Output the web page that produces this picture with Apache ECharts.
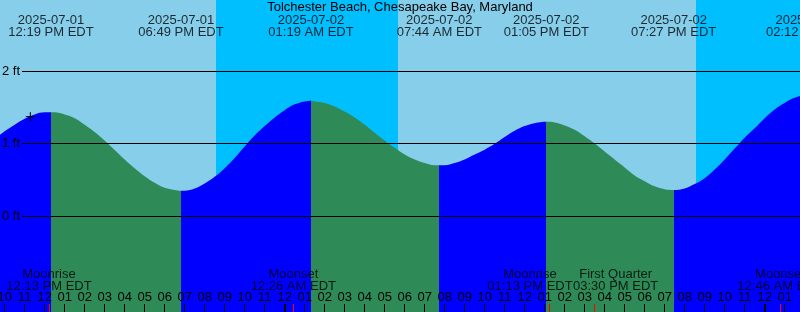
<!DOCTYPE html>
<html><head><meta charset="utf-8">
<script src="https://cdn.jsdelivr.net/npm/echarts@6/dist/echarts.min.js"></script>
<style>html,body{margin:0;padding:0;background:#87CEEB;overflow:hidden}#c{width:800px;height:312px}</style>
</head><body><div id="c"></div>
<script>
// ---------- data ----------
const titleText = 'Tolchester Beach, Chesapeake Bay, Maryland';
const windowStart = '2025-07-01 09:46';
const windowEnd = '2025-07-03 01:46';

const tideEventTimes = ['2025-07-01 12:19','2025-07-01 18:49','2025-07-02 01:19','2025-07-02 07:44','2025-07-02 13:05','2025-07-02 19:27','2025-07-03 02:12'];
const tideEventTypes = ['High','Low','High','Low','High','Low','High'];
const tideEventLevels = [1.43, 0.35, 1.59, 0.70, 1.30, 0.36, 1.66];

// hours since 2025-07-01 00:00 EDT, and tide height (ft)
const curveHours = [9.5, 10, 10.5, 11, 11.5, 12, 12.5, 13, 13.5, 14, 14.5, 15, 15.5, 16, 16.5, 17, 17.5, 18, 18.5, 19, 19.5, 20, 20.5, 21, 21.5, 22, 22.5, 23, 23.5, 24, 24.5, 25, 25.5, 26, 26.5, 27, 27.5, 28, 28.5, 29, 29.5, 30, 30.5, 31, 31.5, 32, 32.5, 33, 33.5, 34, 34.5, 35, 35.5, 36, 36.5, 37.5, 38, 38.5, 39, 39.5, 40, 40.5, 41, 41.5, 42, 42.5, 43, 44, 44.5, 45, 45.5, 46, 46.5, 47, 47.5, 48, 48.5, 49, 49.5, 50];
const curveLevels = [1.06, 1.17, 1.26, 1.34, 1.40, 1.43, 1.43, 1.40, 1.35, 1.26, 1.16, 1.04, 0.91, 0.78, 0.66, 0.55, 0.46, 0.39, 0.36, 0.35, 0.38, 0.45, 0.54, 0.66, 0.80, 0.96, 1.11, 1.24, 1.36, 1.46, 1.54, 1.58, 1.58, 1.56, 1.51, 1.44, 1.36, 1.26, 1.15, 1.04, 0.94, 0.85, 0.78, 0.73, 0.70, 0.70, 0.73, 0.78, 0.85, 0.915, 0.995, 1.09, 1.175, 1.24, 1.28, 1.29, 1.25, 1.19, 1.10, 1.00, 0.89, 0.78, 0.67, 0.56, 0.48, 0.41, 0.37, 0.38, 0.44, 0.52, 0.64, 0.78, 0.93, 1.08, 1.21, 1.35, 1.47, 1.56, 1.63, 1.66];

const sunsetTimes = ['2025-07-01 20:34', '2025-07-02 20:34'];
const sunriseTimes = ['2025-07-02 05:40', '2025-07-03 05:41'];

const moonEventNames = ['Moonrise', 'Moonset', 'Moonrise', 'First Quarter', 'Moonset'];
const moonEventTimes = ['2025-07-01 12:13', '2025-07-02 00:26', '2025-07-02 13:13', '2025-07-02 15:30', '2025-07-03 00:46'];

const hourTicks = [10,11,12,13,14,15,16,17,18,19,20,21,22,23,24,25,26,27,28,29,30,31,32,33,34,35,36,37,38,39,40,41,42,43,44,45,46,47,48,49];
const midnightTimes = ['2025-07-02 00:00', '2025-07-03 00:00'];
const levelTicks = [0, 1, 2];

const nowTime = '2025-07-01 11:17';
const nowLevel = 1.37;

// ---------- style / layout ----------
const FONT = 'Liberation Sans';
const RISE = '#0000FF', FALL = '#2E8B57', DAY = '#87CEEB', NIGHT = '#00BFFF';
const W_H = 312, ZERO_Y = 216, FT_PX = 72.5;
const moonLabelShift = [0, 0, -19, 21, 0];

// ---------- helpers ----------
const pad = n => String(n).padStart(2, '0');
const BASE = Date.UTC(2025, 6, 1);
const toH = s => { const [d, t] = s.split(' '); const [Y, M, D] = d.split('-').map(Number); const [hh, mm] = t.split(':').map(Number); return (Date.UTC(Y, M - 1, D, hh, mm) - BASE) / 36e5; };
const clock = s => { const [hh, mm] = s.split(' ')[1].split(':').map(Number); const ap = hh < 12 ? 'AM' : 'PM'; return pad(hh % 12 || 12) + ':' + pad(mm) + ' ' + ap + ' EDT'; };

const tMin = toH(windowStart), tMax = toH(windowEnd);
const tideH = tideEventTimes.map(toH);
const curve = curveHours.map((h, i) => [h, curveLevels[i]])
  .concat(tideH.map((h, i) => [h, tideEventLevels[i]]))
  .sort((a, b) => a[0] - b[0]);

const pieces = [];
let prev = null;
tideH.forEach((h, i) => {
  const p = { lt: h, color: tideEventTypes[i] === 'High' ? RISE : FALL };
  if (prev !== null) p.gte = prev;
  pieces.push(p); prev = h;
});
pieces.push({ gte: prev, color: tideEventTypes[tideEventTypes.length - 1] === 'High' ? FALL : RISE });

const nights = sunsetTimes.map((s, i) => [{ xAxis: toH(s) }, { xAxis: toH(sunriseTimes[i]) }]);

const yMaxTide = ZERO_Y / FT_PX, yMinTide = -(W_H - ZERO_Y) / FT_PX;
const levelMin = levelTicks[0], levelMax = levelTicks[levelTicks.length - 1];

const stripGrid = { left: 0, right: 0, top: 304, height: 8, outerBoundsMode: 'none' };
const hiddenX = gi => ({ gridIndex: gi, type: 'value', min: tMin, max: tMax, show: false });
const tickX = (gi, vals, color, width, withLabels) => ({
  gridIndex: gi, type: 'value', min: tMin, max: tMax, position: 'bottom', z: 10,
  axisLine: { show: false }, splitLine: { show: false },
  axisTick: { show: true, inside: true, length: 8, customValues: vals, lineStyle: { color, width } },
  axisLabel: withLabels ? {
    show: true, inside: true, margin: 8, customValues: vals, color: '#000', fontSize: 13, fontFamily: FONT,
    formatter: v => pad((((Math.round(v) % 24) + 24) % 24) % 12 || 12)
  } : { show: false }
});
const hiddenY = gi => ({ gridIndex: gi, type: 'value', min: 0, max: 1, show: false });

const option = {
  animation: false,
  backgroundColor: DAY,
  title: {
    text: titleText, left: 'center', top: 1, padding: 0,
    textStyle: { fontSize: 13, fontWeight: 'normal', color: '#000', fontFamily: FONT, lineHeight: 13 }
  },
  grid: [
    { left: 0, right: 0, top: 0, bottom: 0, outerBoundsMode: 'none' },
    { left: 22, right: 0, top: ZERO_Y - FT_PX * levelMax, height: FT_PX * (levelMax - levelMin), outerBoundsMode: 'none' },
    { left: 0, right: 0, top: 0, height: 14, outerBoundsMode: 'none' },
    stripGrid, Object.assign({}, stripGrid), Object.assign({}, stripGrid)
  ],
  xAxis: [
    hiddenX(0),
    { gridIndex: 1, type: 'value', min: 0, max: 1, show: false },
    hiddenX(2),
    tickX(3, hourTicks, '#000', 1, true),
    tickX(4, midnightTimes.map(toH), '#000', 2, false),
    tickX(5, moonEventTimes.map(toH), '#FF0000', 1, false)
  ],
  yAxis: [
    { gridIndex: 0, type: 'value', min: yMinTide, max: yMaxTide, show: false },
    {
      gridIndex: 1, type: 'value', min: levelMin, max: levelMax, interval: 1, z: 10,
      axisLine: { show: false }, axisTick: { show: false },
      splitLine: { show: true, lineStyle: { color: '#000', width: 1 } },
      axisLabel: { show: true, margin: 2, formatter: '{value} ft', color: '#000', fontSize: 13, fontFamily: FONT }
    },
    hiddenY(2), hiddenY(3), hiddenY(4), hiddenY(5)
  ],
  visualMap: { type: 'piecewise', show: false, dimension: 0, seriesIndex: 0, pieces },
  series: [
    {
      type: 'line', xAxisIndex: 0, yAxisIndex: 0, data: curve, smooth: 0.4,
      symbol: 'none', showSymbol: false, silent: true, z: 2,
      lineStyle: { width: 0 }, areaStyle: { opacity: 1, origin: 'start' }
    },
    {
      type: 'scatter', xAxisIndex: 0, yAxisIndex: 0, silent: true, z: 5,
      data: [[toH(nowTime), nowLevel]],
      symbol: 'path://M0 5H10M5 0V10', symbolSize: 9,
      itemStyle: { color: 'rgba(0,0,0,0)', borderColor: '#000', borderWidth: 1, opacity: 1 },
      markArea: { silent: true, z: 1, label: { show: false }, itemStyle: { color: NIGHT, opacity: 1 }, data: nights }
    },
    {
      type: 'scatter', xAxisIndex: 2, yAxisIndex: 2, silent: true, clip: false, z: 10,
      symbol: 'circle', symbolSize: 0, itemStyle: { color: 'rgba(0,0,0,0)' },
      data: tideH.map(h => [h, 0]),
      label: {
        show: true, position: 'bottom', distance: 0, color: '#000', fontSize: 13, fontFamily: FONT, lineHeight: 12, align: 'center',
        formatter: p => tideEventTimes[p.dataIndex].split(' ')[0] + '\n' + clock(tideEventTimes[p.dataIndex])
      }
    },
    {
      type: 'scatter', xAxisIndex: 3, yAxisIndex: 3, silent: true, clip: false, z: 10,
      symbol: 'circle', symbolSize: 0, itemStyle: { color: 'rgba(0,0,0,0)' },
      data: moonEventTimes.map((s, i) => ({ value: [toH(s), 1], label: { offset: [moonLabelShift[i], 0] } })),
      label: {
        show: true, position: 'top', distance: 12, color: '#000', fontSize: 13, fontFamily: FONT, lineHeight: 12, align: 'center',
        formatter: p => moonEventNames[p.dataIndex] + '\n' + clock(moonEventTimes[p.dataIndex])
      }
    }
  ]
};
const chart = echarts.init(document.getElementById('c'), null, { renderer: 'canvas' });
chart.setOption(option);
</script>
</body></html>
